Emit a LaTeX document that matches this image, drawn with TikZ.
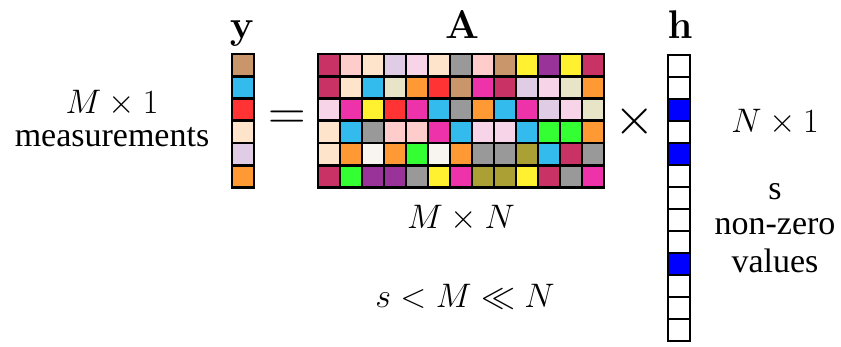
\RequirePackage{fix-cm}
\documentclass[tikz,border=0pt]{standalone}
\usepackage[no-math]{fontspec}
\setmainfont{Liberation Serif}
\usepackage{amsmath,amssymb}
\usetikzlibrary{positioning}
\definecolor{cCrim}{HTML}{C83264}
\definecolor{cRose}{HTML}{FFCCCC}
\definecolor{cBisq}{HTML}{FFE4CC}
\definecolor{cThis}{HTML}{E0CCE4}
\definecolor{cBlsh}{HTML}{F8D4E8}
\definecolor{cGrey}{HTML}{999999}
\definecolor{cTan}{HTML}{C8966A}
\definecolor{cYell}{HTML}{FFF030}
\definecolor{cPurp}{HTML}{993399}
\definecolor{cSky}{HTML}{33BBEE}
\definecolor{cBeig}{HTML}{E8E4C8}
\definecolor{cOran}{HTML}{FF9933}
\definecolor{cRed}{HTML}{FF3333}
\definecolor{cMage}{HTML}{EE33AA}
\definecolor{cLime}{HTML}{33FF33}
\definecolor{cSnow}{HTML}{F8F4F0}
\definecolor{cOliv}{HTML}{AAA033}
\definecolor{cBlue}{HTML}{0000FF}
\tikzset{
  cell/.style={draw=black, line width=2.4pt, minimum size=22pt, inner sep=0pt},
  txt/.style={font=\fontsize{34}{38}\selectfont, inner sep=0pt},
  op/.style={font=\fontsize{52}{56}\selectfont, inner sep=0pt},
  lbl/.style={font=\fontsize{40}{44}\selectfont, inner sep=0pt, anchor=base}
}
\begin{document}
\begin{tikzpicture}[x=1pt, y=-1pt]
  \useasboundingbox (0,0) rectangle (841,346);
  % matrix A
  \foreach \row [count=\j from 0] in {
      {cCrim,cRose,cBisq,cThis,cBlsh,cBisq,cGrey,cRose,cTan,cYell,cPurp,cYell,cCrim},
      {cCrim,cBisq,cSky,cBeig,cOran,cRed,cTan,cMage,cCrim,cThis,cBlsh,cBeig,cOran},
      {cBlsh,cMage,cYell,cRed,cMage,cSky,cGrey,cOran,cSky,cMage,cThis,cBlsh,cBeig},
      {cBisq,cSky,cGrey,cRose,cRose,cMage,cSky,cBlsh,cBlsh,cSky,cLime,cLime,cOran},
      {cBisq,cOran,cSnow,cOran,cLime,cSnow,cOran,cGrey,cGrey,cOliv,cSky,cCrim,cGrey},
      {cCrim,cLime,cPurp,cPurp,cGrey,cYell,cMage,cOliv,cOliv,cYell,cCrim,cGrey,cMage}}{
    \foreach \c [count=\i from 0] in \row {
      \node[cell, fill=\c] (A-\j-\i) at (329+22*\i, 65+22.3*\j) {};
    }
  }
  % vector y
  \foreach \c [count=\j from 0] in {cTan,cSky,cRed,cBisq,cThis,cOran}{
    \node[cell, fill=\c] (y-\j) at (243, 65+22.3*\j) {};
  }
  % vector h
  \foreach \c [count=\j from 0] in {white,white,cBlue,white,cBlue,white,white,
                                    white,white,cBlue,white,white,white}{
    \node[cell, fill=\c] (h-\j) at (679, 66+22*\j) {};
  }
  % names
  \node[lbl] (ylbl) at (242, 38) {$\mathbf{y}$};
  \node[lbl] (Albl) at (462, 38) {$\mathbf{A}$};
  \node[lbl] (hlbl) at (680, 38) {$\mathbf{h}$};
  \node[op] (eq) at (287, 120) {$=$};
  \node[op] (times) at (635, 121) {$\times$};
  % left
  \node[txt] (ydim) at (112, 103) {$M\times 1$};
  \node[txt] (meas) at (112, 137) {measurements};
  % below A
  \node[txt] (Adim) at (461, 218) {$M\times N$};
  \node[txt] (cond) at (465, 297) {$s<M\ll N$};
  % right
  \node[txt] (hdim) at (775, 122) {$N\times 1$};
  \node[txt] (s) at (775, 192) {s};
  \node[txt] (nz) at (775, 227) {non-zero};
  \node[txt] (vals) at (775, 261) {values};
\end{tikzpicture}
\end{document}
